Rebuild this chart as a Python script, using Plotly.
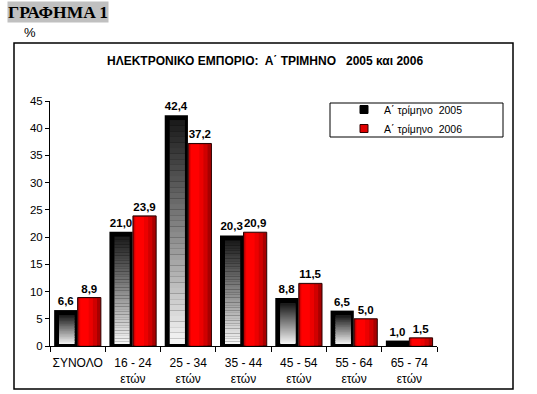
import plotly.graph_objects as go

categories = ["ΣΥΝΟΛΟ", "16 - 24<br>ετών", "25 - 34<br>ετών", "35 - 44<br>ετών",
              "45 - 54<br>ετών", "55 - 64<br>ετών", "65 - 74<br>ετών"]
values_2005 = [6.6, 21.0, 42.4, 20.3, 8.8, 6.5, 1.0]
values_2006 = [8.9, 23.9, 37.2, 20.9, 11.5, 5.0, 1.5]
series_names = ["Α΄ τρίμηνο  2005", "Α΄ τρίμηνο  2006"]
y_ticks = [0, 5, 10, 15, 20, 25, 30, 35, 40, 45]

W, H = 537, 394
PL, PR, PT, PB = 50, 437, 101, 346
cat_px = (PR - PL) / len(categories)
y_px = (PB - PT) / 45.0


def px_x(p):
    return (p - PL) / (PR - PL)


def px_y(p):
    return (PB - p) / (PB - PT)


FONT = "Liberation Sans, Arial, sans-serif"
fig = go.Figure()

bw = 0.42
off05 = -0.425
off06 = 0.0

# 2005 outer black bars
fig.add_trace(go.Bar(
    x=categories, y=values_2005, name=series_names[0],
    offset=off05, width=bw,
    marker=dict(color="#000000", line=dict(color="#000000", width=0)),
    texttemplate="%{y:.1f}", textposition="outside", constraintext="none",
    textfont=dict(family=FONT, size=11.5, color="#000000", weight="bold"),
    cliponaxis=False, hoverinfo="skip", showlegend=False,
))

# gradient inside 2005 bars (dark at top, light at bottom)
N = 40
top_in = 5 / y_px
bot_in = 2 / y_px
in_off = off05 + 5 / cat_px
in_w = bw - 8 / cat_px
for k in range(N):
    bases, heights = [], []
    for v in values_2005:
        lo, hi = bot_in, v - top_in
        span = max(hi - lo, 0)
        bases.append(lo + span * k / N)
        heights.append(span / N * 1.02)
    t = k / (N - 1)
    g = int(245 - (245 - 28) * t)
    fig.add_trace(go.Bar(
        x=categories, y=heights, base=bases, offset=in_off, width=in_w,
        marker=dict(color=f"rgb({g},{g},{g})", line=dict(width=0)),
        showlegend=False, hoverinfo="skip",
    ))

# 2006 red bars
fig.add_trace(go.Bar(
    x=categories, y=values_2006, name=series_names[1],
    offset=off06, width=bw,
    marker=dict(color="#a80000", line=dict(color="#2a0000", width=1)),
    texttemplate="%{y:.1f}", textposition="outside", constraintext="none",
    textfont=dict(family=FONT, size=11.5, color="#000000", weight="bold"),
    cliponaxis=False, hoverinfo="skip", showlegend=False,
))
red_layers = [(0.02, 0.33, "#d00000"), (0.035, 0.24, "#ec0000"), (0.05, 0.15, "#ff0000")]
for o, w, c in red_layers:
    tops = [max(v - 1 / y_px, 0) for v in values_2006]
    bs = [0.5 / y_px for _ in values_2006]
    fig.add_trace(go.Bar(
        x=categories, y=[max(a - b, 0) for a, b in zip(tops, bs)], base=bs,
        offset=off06 + o, width=w,
        marker=dict(color=c, line=dict(width=0)),
        showlegend=False, hoverinfo="skip",
    ))

# legend entries (small square symbols)
fig.add_trace(go.Scatter(
    x=[None], y=[None], mode="markers", name=series_names[0],
    marker=dict(symbol="square", size=8, color="#000000", line=dict(color="#000000", width=1)),
))
fig.add_trace(go.Scatter(
    x=[None], y=[None], mode="markers", name=series_names[1],
    marker=dict(symbol="square", size=8, color="#e00000", line=dict(color="#300000", width=1)),
))

fig.update_layout(
    width=W, height=H,
    margin=dict(l=PL, r=W - PR, t=PT, b=H - PB, autoexpand=False),
    paper_bgcolor="white", plot_bgcolor="white",
    barmode="overlay", separators=",.",
    font=dict(family=FONT, size=11, color="#000000"),
    showlegend=True,
    legend=dict(
        x=px_x(344), y=px_y(95), xanchor="left", yanchor="top",
        borderwidth=0, bgcolor="rgba(0,0,0,0)",
        font=dict(family=FONT, size=10.5, color="#000000"),
        itemwidth=30, tracegroupgap=0, traceorder="normal",
    ),
    xaxis=dict(
        type="category", showline=True, linecolor="#000000", linewidth=1,
        ticks="outside", tickson="boundaries", ticklen=5, tickcolor="#000000",
        showgrid=False, tickfont=dict(family=FONT, size=12), fixedrange=True,
        tickangle=0, automargin=False, ticklabelstandoff=6,
    ),
    yaxis=dict(
        range=[0, 45], tickvals=y_ticks, showline=True, linecolor="#000000",
        linewidth=1, ticks="outside", ticklen=4, tickcolor="#000000",
        showgrid=False, zeroline=False, tickfont=dict(family=FONT, size=11.5),
        fixedrange=True, automargin=False,
    ),
    shapes=[
        dict(type="rect", xref="paper", yref="paper",
             x0=px_x(14), x1=px_x(513), y0=px_y(389), y1=px_y(43),
             line=dict(color="#000000", width=1.5), fillcolor="rgba(0,0,0,0)", layer="below"),
        dict(type="rect", xref="paper", yref="paper",
             x0=px_x(330), x1=px_x(503), y0=px_y(137), y1=px_y(103),
             line=dict(color="#000000", width=1), fillcolor="white", layer="below"),
    ],
    annotations=[
        dict(text="<b>ΓΡΑΦΗΜΑ 1</b>", xref="paper", yref="paper",
             x=px_x(7), y=px_y(1), xanchor="left", yanchor="top", showarrow=False,
             bgcolor="#c0c0c0", borderpad=0,
             font=dict(family="Liberation Serif, Times New Roman, serif", size=17.5, color="#000000")),
        dict(text="%", xref="paper", yref="paper",
             x=px_x(22), y=px_y(23), xanchor="left", yanchor="top", showarrow=False,
             font=dict(family=FONT, size=13, color="#000000")),
        dict(text="<b>ΗΛΕΚΤΡΟΝΙΚΟ ΕΜΠΟΡΙΟ:  Α΄ ΤΡΙΜΗΝΟ   2005 και 2006</b>",
             xref="paper", yref="paper", x=px_x(265), y=px_y(61),
             xanchor="center", yanchor="middle", showarrow=False,
             font=dict(family=FONT, size=12, color="#000000")),
    ],
)

fig.write_html("out.html", config={"displayModeBar": False},
               post_script="document.body.style.margin='0px';")
